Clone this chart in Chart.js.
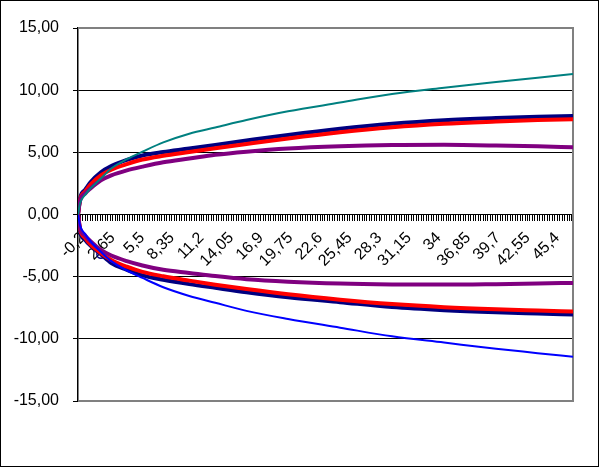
<!DOCTYPE html>
<html>
<head>
<meta charset="utf-8">
<script src="https://cdn.jsdelivr.net/npm/chart.js@4.4.0/dist/chart.umd.min.js"></script>
<style>
    body { margin: 0; background: #fff; }
    canvas { display: block; }
</style>
</head>
<body>
<canvas id="curves" width="599" height="467"></canvas>
<script>
// x positions, shared by all series
const xValues = [-0.2, 0, 0.5, 1, 2, 3, 4.5, 6, 8, 10.5, 13, 16, 20, 25, 30, 35, 40, 44, 47.4];

const tealUpper   = [0, 0.9, 1.6, 2.1, 2.9, 3.7, 4.45, 5.05, 5.8, 6.5, 7.0, 7.6, 8.3, 9.0, 9.7, 10.2, 10.65, 11.0, 11.3];
const blueLower   = [0, -0.9, -1.6, -2.15, -3.0, -3.75, -4.5, -5.1, -5.85, -6.55, -7.1, -7.75, -8.4, -9.1, -9.8, -10.3, -10.8, -11.15, -11.45];
const navyUpper   = [0, 1.3, 2.0, 2.6, 3.4, 3.9, 4.4, 4.75, 5.02, 5.3, 5.6, 5.95, 6.4, 6.9, 7.3, 7.58, 7.76, 7.87, 7.93];
const navyLower   = [0, -1.35, -2.05, -2.5, -3.2, -3.9, -4.45, -4.9, -5.25, -5.6, -5.9, -6.25, -6.65, -7.05, -7.45, -7.7, -7.87, -7.97, -8.05];
const redUpper    = [0, 1.2, 1.85, 2.4, 3.15, 3.6, 4.05, 4.42, 4.72, 5.02, 5.32, 5.67, 6.12, 6.62, 7.02, 7.3, 7.48, 7.6, 7.66];
const redLower    = [0, -1.2, -1.9, -2.4, -3.1, -3.65, -4.2, -4.62, -4.97, -5.32, -5.65, -6.0, -6.42, -6.85, -7.2, -7.45, -7.62, -7.72, -7.8];
const purpleUpper = [0, 1.1, 1.7, 2.1, 2.75, 3.15, 3.55, 3.85, 4.2, 4.5, 4.8, 5.05, 5.3, 5.48, 5.58, 5.6, 5.55, 5.48, 5.4];
const purpleLower = [0, -1.1, -1.7, -2.15, -2.85, -3.3, -3.75, -4.1, -4.45, -4.7, -4.95, -5.2, -5.4, -5.55, -5.62, -5.64, -5.6, -5.55, -5.5];

const tickLabels = ['-0,2', '2,65', '5,5', '8,35', '11,2', '14,05', '16,9', '19,75', '22,6',
    '25,45', '28,3', '31,15', '34', '36,85', '39,7', '42,55', '45,4'];
const labelStep = 2.85;
const ticksPerLabel = 12;
const xMin = -0.2;
const xMax = 47.4;

function pairs(ys) {
    return xValues.map(function (x, i) { return { x: x, y: ys[i] }; });
}

function line(data, color, width) {
    return {
        data: pairs(data),
        borderColor: color,
        backgroundColor: color,
        borderWidth: width,
        pointRadius: 0,
        cubicInterpolationMode: 'monotone',
        fill: false,
    };
}

let navyLowerLine = line(navyLower, '#000080', 4);
// the single marker sitting on the "2,65" label
navyLowerLine.pointRadius = function (ctx) { return ctx.dataIndex === 4 ? 4 : 0; };
navyLowerLine.pointBorderColor = '#000080';
navyLowerLine.pointBackgroundColor = 'rgba(0,0,0,0)';
navyLowerLine.pointBorderWidth = 1.5;

const frame = {
    id: 'frame',
    beforeDraw: function (chart) {
        const c = chart.ctx;
        c.save();
        c.fillStyle = '#fff';
        c.fillRect(0, 0, chart.width, chart.height);
        c.restore();
    },
    beforeDatasetsDraw: function (chart) {
        const a = chart.chartArea, c = chart.ctx;
        c.save();
        c.strokeStyle = '#808080';
        c.lineWidth = 2;
        c.beginPath();
        c.moveTo(a.left, a.top);
        c.lineTo(a.right, a.top);
        c.lineTo(a.right, a.bottom);
        c.lineTo(a.left, a.bottom);
        c.stroke();
        c.restore();
    },
    afterDraw: function (chart) {
        const c = chart.ctx;
        c.save();
        c.strokeStyle = '#000';
        c.lineWidth = 1;
        c.strokeRect(0.5, 0.5, chart.width - 1, chart.height - 1);
        c.restore();
    }
};

new Chart(document.getElementById('curves'), {
    type: 'line',
    data: {
        datasets: [
            line(tealUpper, '#008080', 2),
            line(blueLower, '#0000FF', 2),
            line(purpleUpper, '#800080', 4),
            line(purpleLower, '#800080', 4),
            line(redUpper, '#FF0000', 4),
            line(redLower, '#FF0000', 4),
            line(navyUpper, '#000080', 4),
            navyLowerLine,
        ]
    },
    plugins: [frame],
    options: {
        responsive: false,
        animation: false,
        events: [],
        layout: { padding: { left: 0, top: 28, right: 26, bottom: 66 } },
        plugins: {
            legend: { display: false },
            tooltip: { enabled: false },
        },
        font: { family: '"Liberation Sans", Arial, sans-serif', size: 16 },
        scales: {
            x: {
                type: 'linear',
                min: xMin,
                max: xMax,
                position: { y: 0 },
                afterBuildTicks: function (axis) {
                    let ticks = [];
                    const step = labelStep / ticksPerLabel;
                    for (let i = 0; xMin + i * step <= xMax + 1e-9; i++) {
                        ticks.push({ value: xMin + i * step });
                    }
                    axis.ticks = ticks;
                },
                border: { color: '#000', width: 1 },
                grid: {
                    drawOnChartArea: false,
                    drawTicks: true,
                    tickLength: 6,
                    color: '#000',
                    tickColor: '#000',
                },
                ticks: {
                    autoSkip: false,
                    maxRotation: 45,
                    minRotation: 45,
                    padding: 8,
                    labelOffset: 5,
                    color: '#000',
                    font: { family: '"Liberation Sans", Arial, sans-serif', size: 16 },
                    callback: function (value, index) {
                        if (index % ticksPerLabel !== 0) return '';
                        return tickLabels[index / ticksPerLabel] || '';
                    }
                }
            },
            y: {
                min: -15,
                max: 15,
                afterFit: function (axis) { axis.width = 78; },
                border: { color: '#000', width: 1.5 },
                grid: {
                    tickLength: 5,
                    tickColor: '#000',
                    lineWidth: 1,
                    color: function (ctx) {
                        const v = ctx.tick ? ctx.tick.value : 0;
                        return (v === 15 || v === -15) ? 'rgba(0,0,0,0)' : '#000';
                    }
                },
                ticks: {
                    stepSize: 5,
                    padding: 14,
                    color: '#000',
                    font: { family: '"Liberation Sans", Arial, sans-serif', size: 16 },
                    callback: function (value) {
                        return value.toFixed(2).replace('.', ',');
                    }
                }
            }
        }
    }
});
</script>
</body>
</html>
